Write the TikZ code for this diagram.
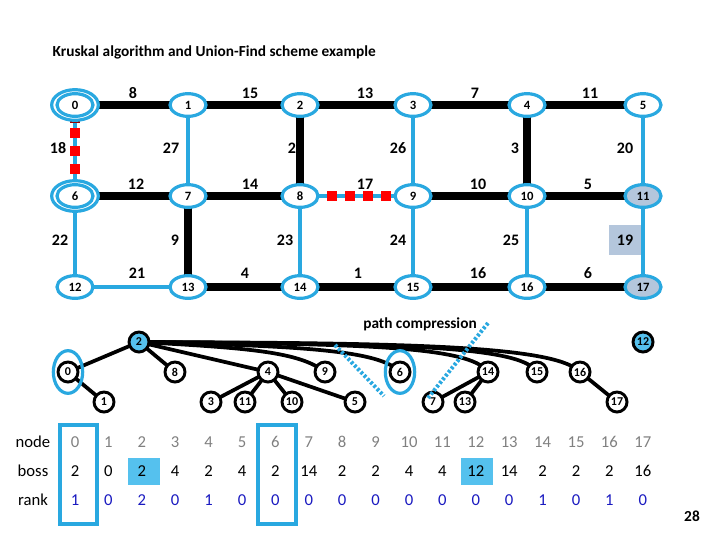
\documentclass[tikz,border=0pt]{standalone}
\usepackage{fontspec}
\setmainfont{Carlito}
\usetikzlibrary{shapes.geometric}
\begin{document}
\begin{tikzpicture}[x=0.75pt,y=-0.75pt,
  gn/.style={ellipse,draw=cyanb,line width=2.4pt,fill=white,minimum width=27pt,minimum height=17pt,inner sep=0pt,font=\bfseries\fontsize{9.5}{11}\selectfont},
  tn/.style={circle,draw=black,line width=2.2pt,fill=white,minimum size=15pt,inner sep=0pt,font=\bfseries\fontsize{9}{10}\selectfont},
  blk/.style={line width=6.5pt,black},
  bl/.style={line width=3pt,cyanb},
  wl/.style={font=\bfseries\fontsize{12}{14}\selectfont},
  tl/.style={line width=2.8pt},
  cell/.style={font=\fontsize{12.5}{15}\selectfont,minimum width=24pt,minimum height=17pt,inner sep=0pt}]
\definecolor{cyanb}{HTML}{29A8E0}
\definecolor{grayb}{HTML}{B4C6DC}
\definecolor{lblue}{HTML}{55C1EE}
\definecolor{rk}{HTML}{1A1AC0}
\useasboundingbox (0,0) rectangle (720,540);
\node[anchor=west,font=\bfseries\fontsize{11.5}{14}\selectfont] (title) at (48,52) {Kruskal algorithm and Union-Find scheme example};
\foreach \i/\x/\y in {0/75/105,1/188/105,2/300/105,3/413/105,4/527/105,5/643/105,6/75/196,7/188/196,8/300/196,9/413/196,10/527/196,11/643/196,12/75/287,13/188/287,14/300/287,15/413/287,16/527/287,17/643/287}
  \coordinate (p\i) at (\x,\y);
\draw[blk] (p0)--(p1)--(p2)--(p3)--(p4)--(p5);
\draw[blk] (p2)--(p8) (p4)--(p10) (p6)--(p7)--(p8) (p9)--(p10)--(p11) (p7)--(p13) (p13)--(p14)--(p15)--(p16)--(p17);
\draw[bl] (p1)--(p7) (p3)--(p9) (p5)--(p11) (p6)--(p12) (p8)--(p14) (p9)--(p15) (p10)--(p16) (p11)--(p17) (p12)--(p13);
\draw[bl] (p0)--(p6) (p8)--(p9);
\foreach \y in {133,151,169} \fill[red] (75,\y) ++(-5,-5) rectangle ++(10,10);
\fill[red!60!black] (70,119) rectangle (80,123);
\foreach \x in {332,350,368,386} \fill[red] (\x,196) ++(-5,-5) rectangle ++(10,10);
\foreach \i in {1,2,3,4,5,7,8,9,10,12,13,14,15,16}
  \node[gn] (n\i) at (p\i) {\i};
\foreach \i in {11,17} \node[gn,fill=grayb] (n\i) at (p\i) {\i};
\foreach \i in {0,6} {\node[gn,minimum width=35pt,minimum height=23pt,fill=white] (o\i) at (p\i) {};
  \node[gn] (n\i) at (p\i) {\i};}
\foreach \t/\x/\y in {8/133/93,15/250/93,13/365/93,7/475/93,11/590/93,18/58/148,27/171/148,2/292/148,26/398/148,3/515/148,20/625/148,12/136/184,14/250/184,17/365/184,10/478/184,5/588/184,22/60/240,9/175/240,23/285/240,24/398/240,25/511/240,21/137/273,4/245/273,1/358/273,16/478/273,6/588/273}
  \node[wl] (w\t) at (\x,\y) {\t};
\node[wl,fill=grayb,minimum width=24pt,minimum height=22pt] (w19) at (625,240) {19};
\node[font=\bfseries\fontsize{11.5}{14}\selectfont] (pc) at (420,324) {path compression};
\foreach \i/\x/\y in {2/139/342,0/68/372,8/175/372,4/268/372,9/325/372,6/400/372,14/488/372,15/537/372,16/580/372,12/643/342,1/104/402,3/211/402,11/245/402,10/292/402,5/355/402,7/433/402,13/465/402,17/617/402}
  \coordinate (q\i) at (\x,\y);
\draw[tl] (q2)--(q0) (q2)--(q8) (q2)--(q4) (q0)--(q1) (q4)--(q3) (q4)--(q11) (q4)--(q10) (q4)--(q5) (q14)--(q7) (q14)--(q13) (q16)--(q17);
\draw[tl] (q2) .. controls (250,348) and (300,352) .. (q9);
\draw[tl] (q2) .. controls (300,346) and (380,350) .. (q6);
\draw[tl] (q2) .. controls (350,344) and (470,345) .. (q14);
\draw[tl] (q2) .. controls (380,344) and (520,344) .. (q15);
\draw[tl] (q2) .. controls (400,343) and (555,345) .. (q16);
\foreach \i in {0,8,4,9,6,14,15,16,1,3,11,10,5,7,13,17} \node[tn] (t\i) at (q\i) {\i};
\foreach \i in {2,12} \node[tn,fill=lblue] (t\i) at (q\i) {\i};
\foreach \i in {0,6} \node[ellipse,draw=cyanb,line width=2.4pt,minimum width=22pt,minimum height=32pt] (c\i) at (q\i) {};
\coordinate (d1a) at (335,345); \coordinate (d1b) at (384,396);
\coordinate (d2a) at (488,323); \coordinate (d2b) at (428,398);
\draw[cyanb,line width=3pt,dash pattern=on 2pt off 1.5pt] (d1a)--(d1b) (d2a)--(d2b);
\fill[lblue] (128,458) rectangle (160,485);
\fill[lblue] (461,458) rectangle (493,485);
\node[cell] (lnode) at (33,442) {node};
\node[cell] (lboss) at (33,471) {boss};
\node[cell] (lrank) at (33,500) {rank};
\foreach \n/\b/\r [count=\c from 0] in {0/2/1,1/0/0,2/2/2,3/4/0,4/2/1,5/4/0,6/2/0,7/14/0,8/2/0,9/2/0,10/4/0,11/4/0,12/12/0,13/14/0,14/2/1,15/2/0,16/2/1,17/16/0}{
  \pgfmathsetmacro{\xx}{75+33.4*\c}
  \node[cell,text=gray] (a\c) at (\xx,442) {\n};
  \node[cell] (b\c) at (\xx,471) {\b};
  \node[cell,text=rk] (r\c) at (\xx,500) {\r};}
\draw[cyanb,line width=2.5pt] (60,425) rectangle (97,524);
\draw[cyanb,line width=2.5pt] (258,425) rectangle (296,524);
\node[font=\bfseries\fontsize{11.5}{14}\selectfont] (pg) at (692,516) {28};
\end{tikzpicture}
\end{document}
